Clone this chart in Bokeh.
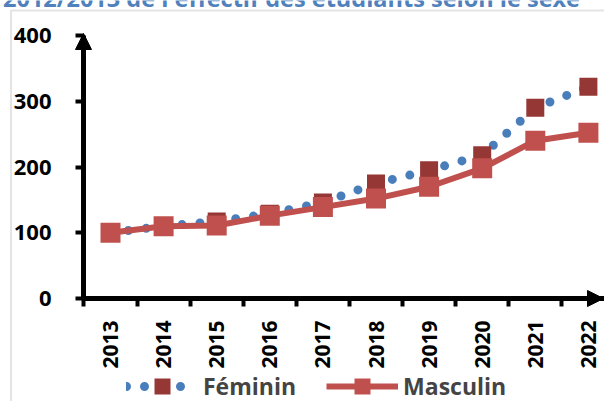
import math
from bokeh.plotting import figure
from bokeh.models import (Range1d, FixedTicker, Arrow, NormalHead, Label,
                          BoxAnnotation, Legend, LegendItem)
from bokeh.embed import file_html
from bokeh.resources import INLINE

# ---- data ----
years = ["2013", "2014", "2015", "2016", "2017", "2018", "2019", "2020", "2021", "2022"]
feminin = [100, 110, 117, 129, 146, 175, 195, 218, 290, 322]
masculin = [100, 110, 111, 126, 139, 152, 170, 198, 240, 252]
y_ticks = [0, 100, 200, 300, 400]
title_text = "2012/2013 de l'effectif des étudiants selon le sexe"

# ---- geometry (frame covers the whole canvas) ----
W, H = 604, 401
X_C0, X_STEP = 110.0, 53.1      # pixel of first category, pixels per category
Y_ZERO, Y_SCALE = 298.0, 0.6575  # pixel of value 0, pixels per unit

X0 = (0 - X_C0) / X_STEP
X1 = (W - X_C0) / X_STEP
Y1 = Y_ZERO / Y_SCALE
Y0 = -(H - Y_ZERO) / Y_SCALE


def dx(px):
    return (px - X_C0) / X_STEP


def dy(py):
    return (Y_ZERO - py) / Y_SCALE


AXIS_X = dx(83)
xs = list(range(len(years)))
FONT = "Open Sans"

p = figure(width=W, height=H, x_range=Range1d(X0, X1), y_range=Range1d(Y0, Y1),
           output_backend="svg", toolbar_location=None, margin=0,
           min_border=0, min_border_left=0, min_border_right=0,
           min_border_top=0, min_border_bottom=0)
p.outline_line_color = None
p.grid.visible = False
p.background_fill_color = "white"
p.border_fill_color = "white"

# y axis
ya = p.yaxis[0]
ya.fixed_location = AXIS_X
ya.bounds = (y_ticks[0], y_ticks[-1])
ya.ticker = FixedTicker(ticks=y_ticks)
ya.axis_line_width = 5
ya.axis_line_color = "black"
ya.major_tick_line_width = 4
ya.major_tick_line_color = "black"
ya.major_tick_out = 8
ya.major_tick_in = 0
ya.minor_tick_out = 0
ya.minor_tick_in = 0
ya.major_label_text_font = FONT
ya.major_label_text_font_style = "bold"
ya.major_label_text_font_size = "22px"
ya.major_label_text_color = "black"
ya.major_label_standoff = 24

# x axis
xa = p.xaxis[0]
xa.fixed_location = 0
xa.bounds = (AXIS_X, X1)
xa.ticker = FixedTicker(ticks=xs, minor_ticks=[i - 0.5 for i in range(len(years) + 1)])
xa.axis_line_width = 5
xa.axis_line_color = "black"
xa.major_tick_out = 0
xa.major_tick_in = 0
xa.minor_tick_out = 8
xa.minor_tick_in = 0
xa.minor_tick_line_width = 4
xa.minor_tick_line_color = "black"
xa.major_label_overrides = {i: y for i, y in enumerate(years)}
xa.major_label_orientation = math.pi / 2
xa.major_label_text_font = FONT
xa.major_label_text_font_style = "bold"
xa.major_label_text_font_size = "21px"
xa.major_label_text_color = "black"
xa.major_label_standoff = 14

# series
fem_line = p.line(xs, feminin, line_color="#4a7ebb", line_width=9,
                  line_dash="0 18", line_cap="round")
fem_sq = p.scatter(xs, feminin, marker="square", size=18,
                   fill_color="#953735", line_alpha=0)
masc_line = p.line(xs, masculin, line_color="#c0504d", line_width=6)
masc_sq = p.scatter(xs, masculin, marker="square", size=20,
                    fill_color="#c0504d", line_alpha=0)

# axis arrows
p.add_layout(Arrow(end=NormalHead(size=16, fill_color="black", line_color="black"),
                   x_start=AXIS_X, y_start=370, x_end=AXIS_X, y_end=dy(33), line_alpha=0))
p.add_layout(Arrow(end=NormalHead(size=16, fill_color="black", line_color="black"),
                   x_start=dx(570), y_start=0, x_end=dx(603), y_end=0, line_alpha=0))

# border of chart area
p.add_layout(BoxAnnotation(left=dx(10.5), right=dx(800), top=dy(10), bottom=dy(600),
                           fill_alpha=0, line_color="#a6a6a6", line_width=2))

# title, cut at the top edge as in the reference
p.add_layout(Label(x=dx(291), y=dy(-3), text=title_text, text_align="center",
                   text_baseline="alphabetic", text_font=FONT,
                   text_font_style="bold", text_font_size="23.5px",
                   text_color="#4f81bd"))

legend = Legend(items=[LegendItem(label="Féminin", renderers=[fem_line, fem_sq]),
                       LegendItem(label="Masculin", renderers=[masc_line, masc_sq])],
                location=(126, -5), orientation="horizontal",
                glyph_width=72, glyph_height=40, label_standoff=5, spacing=30,
                padding=0, margin=0, border_line_color=None,
                background_fill_alpha=0, label_text_font=FONT,
                label_text_font_style="bold", label_text_font_size="23px")
p.add_layout(legend)

open("out.html", "w").write(file_html(p, INLINE))
